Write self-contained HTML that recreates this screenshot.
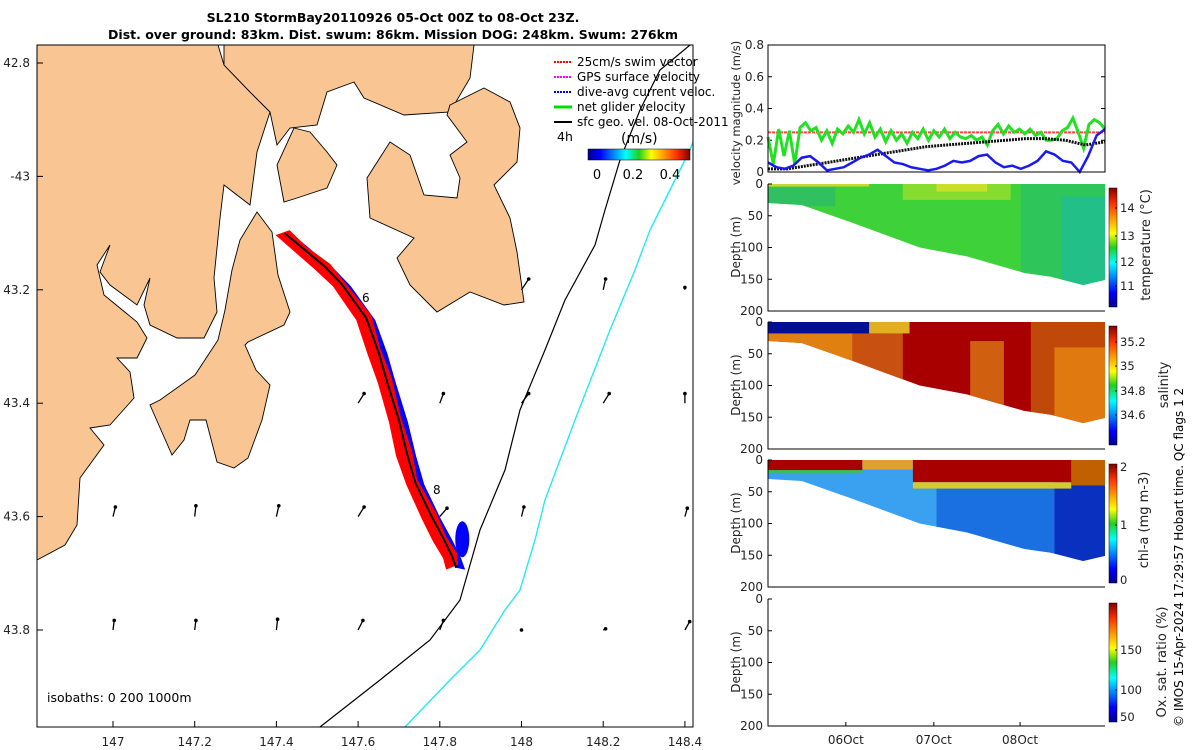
<!DOCTYPE html>
<html><head><meta charset="utf-8"><style>
body{margin:0;background:#fff}
svg{display:block;font-family:"DejaVu Sans","Liberation Sans",sans-serif}
</style></head><body>
<svg id="fig" width="1200" height="750" viewBox="0 0 1200 750">
<defs>
<linearGradient id="jetH" x1="0" x2="1" y1="0" y2="0">
<stop offset="0" stop-color="#00008f"/><stop offset="0.12" stop-color="#0000ff"/><stop offset="0.37" stop-color="#00ffff"/><stop offset="0.5" stop-color="#20d020"/><stop offset="0.62" stop-color="#ffff00"/><stop offset="0.87" stop-color="#ff3000"/><stop offset="1" stop-color="#800000"/></linearGradient>
<linearGradient id="jetV" x1="0" x2="0" y1="1" y2="0">
<stop offset="0" stop-color="#00008f"/><stop offset="0.12" stop-color="#0000ff"/><stop offset="0.37" stop-color="#00ffff"/><stop offset="0.5" stop-color="#20d020"/><stop offset="0.62" stop-color="#ffff00"/><stop offset="0.87" stop-color="#ff3000"/><stop offset="1" stop-color="#800000"/></linearGradient>
<clipPath id="mapclip"><rect x="37" y="45" width="656" height="682"/></clipPath>
</defs>

<text x="393" y="22" text-anchor="middle" font-size="12.5" font-weight="bold">SL210 StormBay20110926 05-Oct 00Z to 08-Oct 23Z.</text>
<text x="393" y="39" text-anchor="middle" font-size="12.5" font-weight="bold">Dist. over ground: 83km. Dist. swum: 86km. Mission DOG: 248km. Swum: 276km</text>

<g id="map" clip-path="url(#mapclip)">
<g fill="#f9c592" stroke="#000" stroke-width="0.9">
<polygon points="37,45 218,45 224,65 250,92 270,112 257,152 250,205 224,185 220,218 214,278 217,312 204,338 177,338 150,325 144,305 150,278 137,305 110,285 100,272 110,245 97,265 104,295 137,322 147,338 137,358 117,358 130,372 134,398 110,425 90,428 104,445 80,478 77,525 65,545 37,560"/>
<polygon points="224,45 474,45 470,78 450,112 404,115 364,98 354,82 327,92 317,125 290,128 277,145 270,112 250,92 224,65"/>
<polygon points="294,128 310,132 327,152 337,165 327,188 297,198 284,202 277,165"/>
<polygon points="257,212 272,232 278,275 290,312 284,325 248,342 245,345 256,370 270,385 262,420 248,458 234,468 217,462 206,420 190,420 184,440 172,455 150,405 160,400 195,375 218,340 225,310 232,270 240,240"/>
<polygon points="450,105 484,88 510,102 520,128 517,162 494,185 510,218 517,252 524,302 504,305 470,292 437,312 410,285 397,258 414,238 370,218 367,178 390,142 410,155 424,195 457,198 460,178 450,155 467,142 447,115"/>
</g>
<polyline fill="none" stroke="#000" stroke-width="1.2" points="320,727 380,680 430,640 460,600 480,530 505,470 520,410 545,350 565,300 595,245 605,210 620,160 640,110 660,70 690,45"/>
<polyline fill="none" stroke="#28e8f0" stroke-width="1.4" points="405,727 450,680 480,650 505,610 520,590 535,540 545,500 575,420 610,330 635,270 650,230 670,190 690,150 705,110 718,85"/>
<g id="track"></g>
<g id="arrows"></g>
<text x="362" y="302" font-size="12">6</text>
<text x="433" y="494" font-size="12">8</text>
<text x="47" y="702" font-size="12.5">isobaths: 0   200  1000m</text>
</g>
<g font-size="12">
<line x1="554" y1="62" x2="572" y2="62" stroke="#f00" stroke-width="2" stroke-dasharray="2,1"/><text x="577" y="66">25cm/s swim vector</text>
<line x1="554" y1="77" x2="572" y2="77" stroke="#f0f" stroke-width="2" stroke-dasharray="2,1"/><text x="577" y="81">GPS surface velocity</text>
<line x1="554" y1="92" x2="572" y2="92" stroke="#00f" stroke-width="2" stroke-dasharray="2,1"/><text x="577" y="96">dive-avg current veloc.</text>
<line x1="554" y1="107" x2="572" y2="107" stroke="#0d0" stroke-width="3"/><text x="577" y="111">net glider velocity</text>
<line x1="554" y1="122" x2="572" y2="122" stroke="#000" stroke-width="2"/><text x="577" y="126">sfc geo. vel. 08-Oct-2011</text>
<text x="557" y="141" font-size="12.5">4h</text>
<text x="621" y="143" font-size="14">(m/s)</text>
<rect x="588" y="149" width="102" height="11" fill="url(#jetH)" stroke="#000" stroke-width="0.5"/>
<text x="597" y="179" text-anchor="middle" font-size="13">0</text>
<text x="633" y="179" text-anchor="middle" font-size="13">0.2</text>
<text x="670" y="179" text-anchor="middle" font-size="13">0.4</text>
</g>
<rect x="37" y="45" width="656" height="682" fill="none" stroke="#000" stroke-width="1"/>
<g id="mapticks" font-size="12" fill="#222"></g>

<g id="right"></g>
<text transform="translate(1183,727) rotate(-90)" font-size="12">© IMOS 15-Apr-2024 17:29:57 Hobart time. QC flags 1  2</text>
</svg>
<script>
const NS='http://www.w3.org/2000/svg';
function mk(tag,attrs,parent){const e=document.createElementNS(NS,tag);for(const k in attrs)e.setAttribute(k,attrs[k]);parent.appendChild(e);return e;}

const lonTicks=[147,147.2,147.4,147.6,147.8,148,148.2,148.4];
const latTicks=[42.8,43,43.2,43.4,43.6,43.8];
const latLabels=['42.8','-43','43.2','43.4','43.6','43.8'];
const trackLon=[147.42,147.47,147.52,147.56,147.62,147.65,147.67,147.70,147.72,147.74,147.78,147.81,147.83,147.84];
const trackLat=[-43.10,-43.13,-43.16,-43.19,-43.25,-43.31,-43.36,-43.43,-43.49,-43.54,-43.60,-43.64,-43.67,-43.69];
const arrowLon=[147.6,147.8,148,148.2,148.4, 147,147.2,147.4,147.6,147.8,148,148.4, 147,147.2,147.4,147.6,147.8,148,148.2,148.4, 148,148.2,148.4];
const arrowLat=[-43.4,-43.4,-43.4,-43.4,-43.4, -43.6,-43.6,-43.6,-43.6,-43.6,-43.6,-43.6, -43.8,-43.8,-43.8,-43.8,-43.8,-43.8,-43.8,-43.8, -43.2,-43.2,-43.2];
const arrowU=[0.5,0.3,0.6,0.5,0.0, 0.2,0.1,0.2,0.5,0.6,0.2,0.2, 0.1,0.1,0.1,0.4,0.3,0.0,0.2,0.4, 0.6,0.2,0.0];
const arrowV=[0.8,0.8,0.8,0.8,0.8, 0.8,0.9,0.9,0.8,0.7,0.8,0.7, 0.8,0.8,0.9,0.8,0.8,0.0,0.1,0.7, 0.9,0.9,0.2];

function lx(lon){return 113+(lon-147)*408.5;}
function ly(lat){return 63+(-lat-42.8)*567;}

const mt=document.getElementById('mapticks');
lonTicks.forEach(v=>{const x=lx(v);
 mk('line',{x1:x,y1:727,x2:x,y2:721,stroke:'#000'},mt);
 const t=mk('text',{x:x,y:746,'text-anchor':'middle'},mt);t.textContent=String(v);
 
 });
latTicks.forEach((v,i)=>{const y=ly(-v);
 mk('line',{x1:37,y1:y,x2:43,y2:y,stroke:'#000'},mt);
 const t=mk('text',{x:30,y:y+4,'text-anchor':'end'},mt);t.textContent=latLabels[i];
 
 });

const tr=document.getElementById('track');
const pts=trackLon.map((l,i)=>[lx(l),ly(trackLat[i])]);
const bl=pts.map(p=>(p[0]-1)+','+p[1]).join(' ')+' '+pts.slice().reverse().map(p=>(p[0]+9)+','+(p[1]+2)).join(' ');
const blue=mk('polygon',{points:bl,fill:'#00f'},tr);


const redL=pts.map((p,i)=>(p[0]-9-(i%3))+','+(p[1]+2)).join(' ');
const redR=pts.slice().reverse().map((p,i)=>(p[0]+2+(i%2)*3)+','+(p[1]-3)).join(' ');
const red=mk('polygon',{points:redL+' '+redR,fill:'#f00'},tr);


const line=mk('polyline',{points:pts.map(p=>p.join(',')).join(' '),fill:'none',stroke:'#000','stroke-width':2},tr);


const blob=mk('ellipse',{cx:lx(147.855),cy:ly(-43.64),rx:7,ry:18,fill:'#00f'},tr);



const ar=document.getElementById('arrows');
arrowLon.forEach((l,i)=>{const x=lx(l),y=ly(arrowLat[i]);const u=arrowU[i]*12,v=arrowV[i]*12;
 const a=mk('line',{x1:x,y1:y,x2:x+u,y2:y-v,stroke:'#000','stroke-width':1.3},ar);
 
 
 const d=mk('circle',{cx:x+u,cy:y-v,r:1.8,fill:'#000'},ar);
 
 });

const greenVel=[0.22,0.05,0.27,0.1,0.26,0.05,0.28,0.31,0.26,0.28,0.2,0.26,0.18,0.27,0.24,0.29,0.25,0.33,0.24,0.31,0.22,0.27,0.19,0.26,0.2,0.24,0.18,0.25,0.21,0.27,0.2,0.26,0.22,0.27,0.21,0.25,0.22,0.21,0.23,0.2,0.22,0.17,0.26,0.3,0.24,0.29,0.25,0.27,0.24,0.27,0.23,0.25,0.2,0.2,0.21,0.26,0.28,0.34,0.25,0.15,0.3,0.33,0.31,0.27];
const blueVel=[0.06,0.03,0.02,0.04,0.09,0.1,0.06,0.01,0.02,0.03,0.06,0.09,0.11,0.14,0.1,0.06,0.05,0.03,0.02,0.01,0.02,0.04,0.07,0.06,0.07,0.1,0.11,0.06,0.03,0.04,0.02,0.04,0.07,0.13,0.11,0.07,0.06,0.0,0.1,0.23,0.27];
const blackVel=[0.02,0.02,0.04,0.06,0.08,0.10,0.12,0.14,0.16,0.17,0.18,0.19,0.20,0.21,0.21,0.20,0.17,0.19];
const swimVel=0.25;
const velTicks=[0,0.2,0.4,0.6,0.8];
const dayTicks=['06Oct','07Oct','08Oct'];
const dayTickFrac=[0.231,0.492,0.748];
const profFrac=[0,0.1,0.25,0.45,0.59,0.76,0.84,0.935,1];
const profDepth=[30,33,61,100,114,140,146,159,151];

const PX0=768,PX1=1105;
function fx(f){return PX0+f*(PX1-PX0);}
const R=document.getElementById('right');
function vy(v){return 172-v*158.75;}
function txt(x,y,s,attrs,name){const t=mk('text',Object.assign({x:x,y:y,'font-size':12,fill:'#222'},attrs||{}),R);t.textContent=s;
 
 return t;}

velTicks.forEach(v=>{mk('line',{x1:PX0,y1:vy(v),x2:PX0+4,y2:vy(v),stroke:'#000'},R);mk('line',{x1:PX1,y1:vy(v),x2:PX1-4,y2:vy(v),stroke:'#000'},R);
 txt(764,vy(v)+4,v===0?'0':String(v),{'text-anchor':'end'},'velocity-tick-label');});
function series(arr,color,w,name,dash){const p=arr.map((v,i)=>fx(i/(arr.length-1))+','+vy(v)).join(' ');
 const l=mk('polyline',{points:p,fill:'none',stroke:color,'stroke-width':w},R);if(dash)l.setAttribute('stroke-dasharray',dash);
 
 }
const sw=mk('line',{x1:PX0,y1:vy(swimVel),x2:PX1,y2:vy(swimVel),stroke:'#f44','stroke-width':2,'stroke-dasharray':'3,1'},R);


series(greenVel,'#22e022',3,'net-glider-velocity-line');
series(blackVel,'#111',3,'geostrophic-velocity-line','2,1');
series(blueVel,'#1a1af0',2.5,'dive-avg-current-line');
const vf=mk('rect',{x:PX0,y:45,width:PX1-PX0,height:127,fill:'none',stroke:'#000'},R);


txt(0,0,'velocity magnitude (m/s)',{transform:'translate(740,113) rotate(-90)','text-anchor':'middle','font-size':11.5},'velocity-axis-title');

const panels=[
 {y:184,name:'temperature',cb:[['14',208],['13',236],['12',262],['11',286]],label:'temperature (°C)',lx:1150,ly:245},
 {y:322,name:'salinity',cb:[['35.2',342],['35',366],['34.8',391],['34.6',415]],label:'salinity',lx:1168,ly:385},
 {y:460,name:'chl-a',cb:[['2',467],['1',525],['0',580]],label:'chl-a (mg m-3)',lx:1148,ly:520},
 {y:599,name:'oxygen',cb:[['150',650],['100',690],['50',717]],label:'Ox. sat. ratio (%)',lx:1166,ly:662}
];
function dy(p,d){return p.y+d*0.635;}
panels.forEach((p,pi)=>{
 const g=mk('g',{},R);
 
 
 if(pi<3){
  const cid='clip'+pi;const cp=mk('clipPath',{id:cid},g);
  const poly=[fx(0)+','+dy(p,0),fx(1)+','+dy(p,0)].concat(profFrac.slice().reverse().map((f,i)=>fx(f)+','+dy(p,profDepth[profFrac.length-1-i])));
  mk('polygon',{points:poly.join(' ')},cp);
  const c=mk('g',{'clip-path':'url(#'+cid+')'},g);
  const blocks={
   0:[[0,1,0,200,'#3fd13a'],[0.75,1,0,200,'#2ec65a'],[0.87,1,20,200,'#22c088'],[0.4,0.72,0,25,'#88dc30'],[0.5,0.65,0,12,'#c8e028'],[0,0.2,5,35,'#30c060'],[0,0.3,0,4,'#c8d830']],
   1:[[0,1,0,200,'#a80000'],[0,0.27,0,200,'#e08010'],[0.25,0.4,0,200,'#c85010'],[0.6,0.7,30,200,'#d06010'],[0.78,1,0,200,'#c04808'],[0.85,1,40,200,'#e07a10'],[0,0.35,0,18,'#001090'],[0.3,0.42,0,18,'#e0b020']],
   2:[[0,1,0,200,'#3aa0f0'],[0.5,0.85,45,200,'#1a70e0'],[0.85,1,30,200,'#0a30c0'],[0,0.28,0,16,'#a80000'],[0,0.28,16,20,'#40c040'],[0.28,0.43,0,15,'#e0a030'],[0.43,0.9,0,35,'#a80000'],[0.43,0.9,35,45,'#d8c830'],[0.9,1,0,40,'#c06000']]
  }[pi];
  blocks.forEach(b=>{const r=mk('rect',{x:fx(b[0]),y:dy(p,b[2]),width:fx(b[1])-fx(b[0]),height:(b[3]-b[2])*0.635,fill:b[4]},c);
   
   });
 }
 [0,50,100,150,200].forEach(d=>{mk('line',{x1:PX0,y1:dy(p,d),x2:PX0+4,y2:dy(p,d),stroke:'#000'},g);
  txt(763,dy(p,d)+4,String(d),{'text-anchor':'end'},'depth-tick-label');});
 const fr=mk('polyline',{points:`${PX0},${p.y} ${PX0},${p.y+127} ${PX1},${p.y+127}`,fill:'none',stroke:'#000'},g);
 
 
 txt(0,0,'Depth (m)',{transform:`translate(740,${p.y+63}) rotate(-90)`,'text-anchor':'middle'},'depth-axis-title');
 const cb=mk('rect',{x:1109,y:p.y+4,width:8,height:119,fill:'url(#jetV)',stroke:'#000','stroke-width':0.5},g);
 
 
 p.cb.forEach(t=>{mk('line',{x1:1115,y1:t[1],x2:1117,y2:t[1],stroke:'#000'},g);txt(1120,t[1]+4,t[0],{'font-size':11.5},'colorbar-tick-label');});
 txt(0,0,p.label,{transform:`translate(${p.lx},${p.ly}) rotate(-90)`,'font-size':13,'text-anchor':'middle'},p.name+'-colorbar-title');
});
dayTicks.forEach((d,i)=>{const x=fx(dayTickFrac[i]);mk('line',{x1:x,y1:726,x2:x,y2:722,stroke:'#000'},R);
 txt(x,744,d,{'text-anchor':'middle'},'date-tick-label');});
</script>
</body></html>
